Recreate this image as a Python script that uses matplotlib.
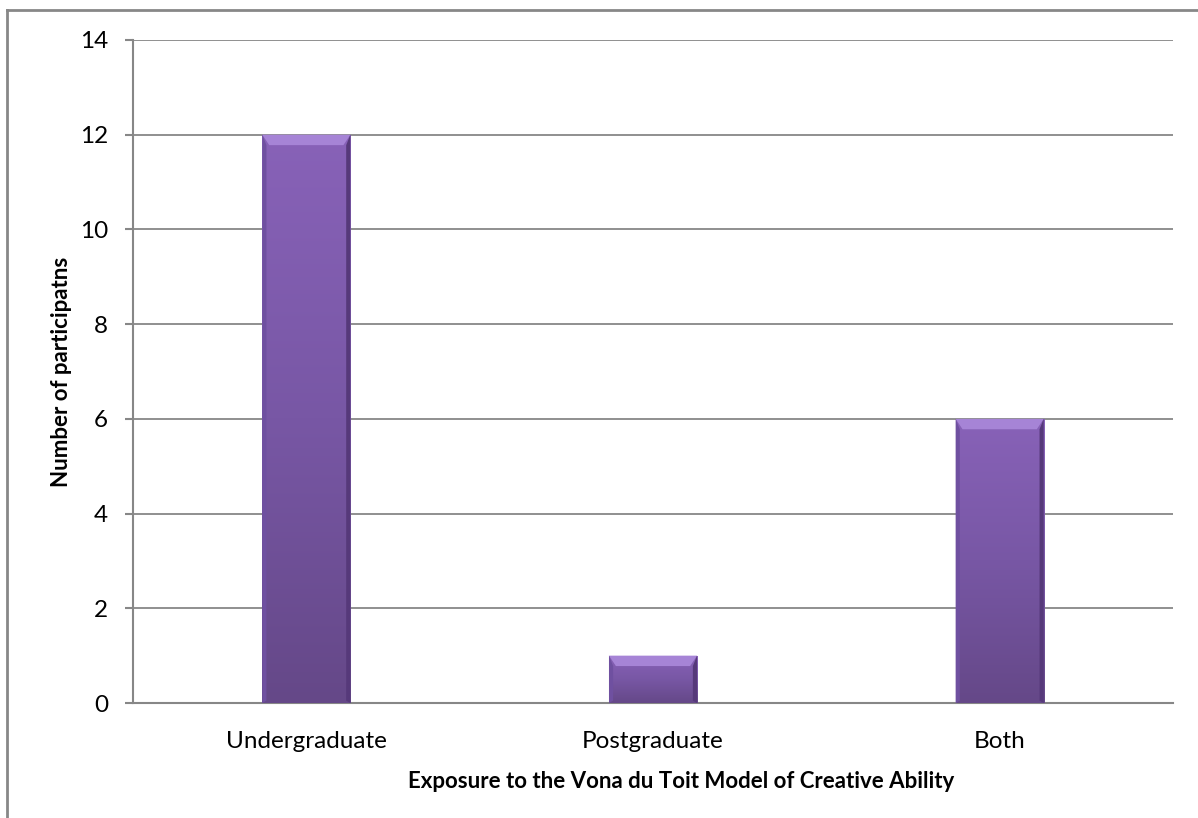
import matplotlib
matplotlib.use("Agg")
import matplotlib.pyplot as plt
import numpy as np
from matplotlib.lines import Line2D
from matplotlib.colors import LinearSegmentedColormap

categories = ["Undergraduate", "Postgraduate", "Both"]
values = [12, 1, 6]
yticks = [0, 2, 4, 6, 8, 10, 12, 14]

plt.rcParams['font.family'] = ['Lato', 'DejaVu Sans']

W, H = 1198, 818
fig = plt.figure(figsize=(W / 100, H / 100), dpi=100)
ax = fig.add_axes([133 / W, 1 - 703 / H, (1173 - 133) / W, (703 - 40) / H])

gray = "#878787"
x = np.arange(len(categories))
bw = 0.254
bars = ax.bar(x, values, width=bw, color="#7a58a8", edgecolor="none", zorder=3)

grad = np.linspace(0, 1, 256).reshape(-1, 1)
cmap = LinearSegmentedColormap.from_list("p", ["#654888", "#7857a5", "#8862b8"])
for b in bars:
    x0, y0 = b.get_x(), b.get_y()
    w, h = b.get_width(), b.get_height()
    im = ax.imshow(grad, extent=[x0, x0 + w, y0, y0 + h], origin="lower",
                   cmap=cmap, aspect="auto", zorder=3)
    im.set_clip_path(b)
    ax.add_patch(plt.Polygon([[x0, y0 + h], [x0 + w, y0 + h],
                              [x0 + w - 0.02, y0 + h - 0.22], [x0 + 0.02, y0 + h - 0.22]],
                             closed=True, color="#a684d6", zorder=4, lw=0))
    ax.add_patch(plt.Polygon([[x0 + w, y0 + h], [x0 + w, y0],
                              [x0 + w - 0.012, y0 + 0.05], [x0 + w - 0.012, y0 + h - 0.22]],
                             closed=True, color="#56397a", zorder=4, lw=0))
    ax.add_patch(plt.Polygon([[x0, y0 + h], [x0, y0],
                              [x0 + 0.012, y0 + 0.05], [x0 + 0.012, y0 + h - 0.22]],
                             closed=True, color="#6f50a0", zorder=4, lw=0))

ax.set_xlim(-0.5, 2.5)
ax.set_ylim(0, 14)
ax.set_yticks(yticks)
ax.set_xticks(x)
ax.set_xticklabels(categories)
ax.tick_params(axis="x", length=0, pad=20, labelsize=17.5)
ax.tick_params(axis="y", length=6, width=1.5, color=gray, pad=12, labelsize=17.5)
ax.yaxis.grid(True, color=gray, lw=1.3, zorder=0)
ax.set_axisbelow(True)
for s in ["top", "right"]:
    ax.spines[s].set_visible(False)
for s in ["left", "bottom"]:
    ax.spines[s].set_color(gray)
    ax.spines[s].set_linewidth(1.5)

ax.set_xlabel("Exposure to the Vona du Toit Model of Creative Ability",
              fontsize=16, fontweight="bold")
ax.xaxis.set_label_coords((681 - 133) / (1173 - 133), -0.103)
ax.set_ylabel("Number of participatns", fontsize=16, fontweight="bold")
ax.yaxis.set_label_coords((72 - 133) / (1173 - 133), 0.5)

fig.add_artist(Line2D([7 / W, 1.0], [1 - 10 / H, 1 - 10 / H], color=gray, lw=2,
                      transform=fig.transFigure))
fig.add_artist(Line2D([7 / W, 7 / W], [1 - 10 / H, 0], color=gray, lw=2,
                      transform=fig.transFigure))

fig.savefig("out.png", dpi=100)
